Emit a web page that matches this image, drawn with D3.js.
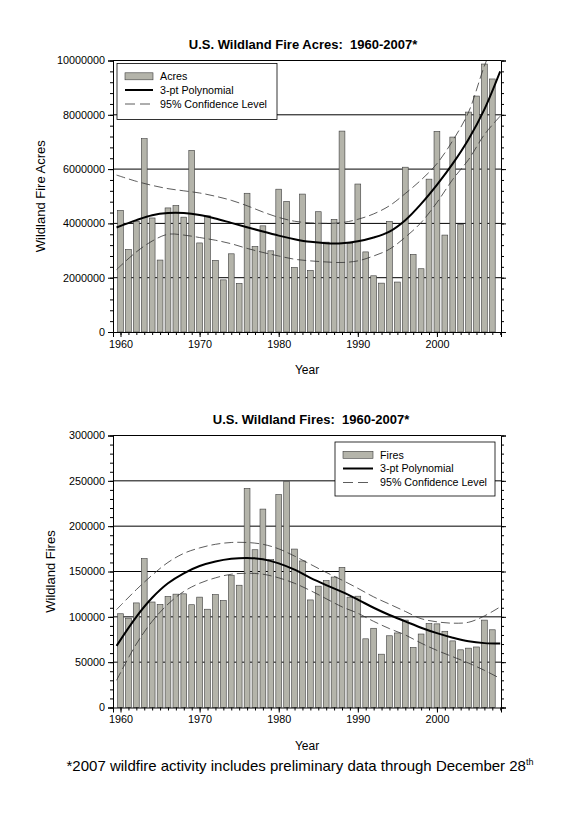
<!DOCTYPE html>
<html><head><meta charset="utf-8">
<script src="https://cdn.jsdelivr.net/npm/d3@7"></script>
<style>
body{margin:0;background:#fff;}
svg{display:block;font-family:"Liberation Sans",Arial,sans-serif;}
</style></head>
<body><svg id="chart" width="586" height="830"></svg>
<script>
// ---------- DATA ----------
const years = [1960,1961,1962,1963,1964,1965,1966,1967,1968,1969,1970,1971,1972,1973,1974,1975,1976,1977,1978,1979,
  1980,1981,1982,1983,1984,1985,1986,1987,1988,1989,1990,1991,1992,1993,1994,1995,1996,1997,1998,1999,
  2000,2001,2002,2003,2004,2005,2006,2007];
const acres = [4480000,3040000,4080000,7120000,4200000,2650000,4570000,4660000,4230000,6690000,
  3280000,4280000,2640000,1920000,2880000,1790000,5110000,3150000,3910000,2990000,
  5260000,4810000,2380000,5080000,2270000,4430000,3310000,4150000,7400000,3260000,
  5450000,2950000,2070000,1800000,4070000,1840000,6070000,2860000,2330000,5630000,
  7390000,3570000,7180000,3960000,8100000,8690000,9870000,9320000];
const fires = [103387,98517,115345,164183,116358,113684,122500,125025,125371,113351,
  121736,108398,124554,117957,145868,134872,241699,173998,218842,163196,
  234892,249370,174755,161649,118636,133840,139980,143877,154573,121714,
  122763,75754,87394,58810,79107,82234,96363,66196,81043,92487,
  92250,84079,73457,63629,65461,66753,96385,85705];

const fitYears = [1959.5,1962,1964,1966,1968,1970,1972,1974,1976,1978,1980,1982,1984,1986,1988,1990,1992,1994,1996,1998,2000,2002,2004,2006,2008];
const acresPoly  = [3850000,4120000,4300000,4380000,4380000,4310000,4180000,4020000,3860000,3700000,3550000,3420000,3320000,3270000,3270000,3340000,3480000,3700000,4120000,4720000,5420000,6200000,7100000,8200000,9600000];
const acresUpper = [5780000,5550000,5400000,5280000,5200000,5120000,5000000,4850000,4650000,4420000,4220000,4080000,4020000,4000000,4030000,4150000,4350000,4650000,5100000,5600000,6200000,7050000,8100000,9800000,11200000];
const acresLower = [2300000,2950000,3350000,3600000,3570000,3480000,3380000,3250000,3080000,2930000,2800000,2680000,2620000,2580000,2560000,2620000,2800000,3050000,3490000,4030000,4770000,5620000,6350000,7270000,7950000];

const firesPoly  = [68000,100000,121000,137000,148000,156000,161000,164000,165000,163500,159000,152000,143000,135000,127500,119000,110000,102000,95000,88000,82000,77000,73000,71000,70500];
const firesUpper = [108000,130000,146000,160000,170000,176000,180000,182000,182000,180000,175000,167000,158000,149000,140500,131500,122000,114000,106000,98000,94500,93000,94000,101000,111000];
const firesLower = [30000,70000,95000,114000,128000,137000,143000,147000,148000,147000,143000,137000,129000,120000,111000,104000,95000,87000,80000,71000,63000,56000,49000,41000,32000];

const acresTicks = [0,2000000,4000000,6000000,8000000,10000000];
const firesTicks = [0,50000,100000,150000,200000,250000,300000];
const yearTicks = [1960,1970,1980,1990,2000];

// ---------- STYLE ----------
const barFill = "#b4b4aa", barStroke = "#3c3c3c";
const svg = d3.select("#chart");

function drawChart(cfg){
  const x = d3.scaleLinear().domain([1959.05, 2008.1]).range([113, 501]);
  const y = d3.scaleLinear().domain([0, cfg.ticks[cfg.ticks.length-1]]).range([cfg.bottom, cfg.top]);
  const g = svg.append("g");
  const id = "clip" + cfg.name;
  g.append("clipPath").attr("id", id).append("rect")
    .attr("x", 113).attr("y", cfg.top).attr("width", 388).attr("height", cfg.bottom - cfg.top);

  // gridlines (behind bars)
  g.append("g").selectAll("line").data(cfg.ticks.slice(1))
    .join("line").attr("x1", 113).attr("x2", 501)
    .attr("y1", d => y(d)).attr("y2", d => y(d))
    .attr("stroke", "#000").attr("stroke-width", 1);

  // bars
  const bw = 5.8;
  g.append("g").selectAll("rect").data(years)
    .join("rect")
    .attr("x", (d) => x(d) - bw/2)
    .attr("width", bw)
    .attr("y", (d,i) => y(cfg.values[i]))
    .attr("height", (d,i) => y(0) - y(cfg.values[i]))
    .attr("fill", barFill).attr("stroke", barStroke).attr("stroke-width", 0.6);

  // fit lines
  const line = (arr) => d3.line().x((d,i) => x(fitYears[i])).y(d => y(d)).curve(d3.curveCatmullRom)(arr);
  const lg = g.append("g").attr("clip-path", `url(#${id})`);
  [cfg.upper, cfg.lower].forEach(arr => {
    lg.append("path").attr("d", line(arr)).attr("fill", "none")
      .attr("stroke", "#333").attr("stroke-width", 0.8).attr("stroke-dasharray", "9,4");
  });
  lg.append("path").attr("d", line(cfg.poly)).attr("fill", "none")
    .attr("stroke", "#000").attr("stroke-width", 2);

  // axes
  const yMinor = d3.range(0, cfg.ticks[cfg.ticks.length-1] + 1, cfg.minor);
  const left = g.append("g").attr("transform", "translate(113,0)")
    .call(d3.axisLeft(y).tickValues(cfg.ticks).tickFormat(d3.format("d")).tickSize(5).tickPadding(3));
  const right = g.append("g").attr("transform", "translate(501,0)")
    .call(d3.axisRight(y).tickValues(cfg.ticks).tickFormat("").tickSize(5));
  g.append("g").attr("transform", "translate(113,0)")
    .call(d3.axisLeft(y).tickValues(yMinor).tickFormat("").tickSize(3)).select(".domain").remove();
  g.append("g").attr("transform", "translate(501,0)")
    .call(d3.axisRight(y).tickValues(yMinor).tickFormat("").tickSize(3)).select(".domain").remove();
  const bottomAx = g.append("g").attr("transform", `translate(0,${cfg.bottom})`)
    .call(d3.axisBottom(x).tickValues(yearTicks).tickFormat(d3.format("d")).tickSize(5).tickPadding(3));
  g.append("g").attr("transform", `translate(0,${cfg.bottom})`)
    .call(d3.axisBottom(x).tickValues(years.concat([2008])).tickFormat("").tickSize(3)).select(".domain").remove();
  g.selectAll(".domain").attr("stroke", "#000").attr("stroke-width", 1);
  g.selectAll(".tick line").attr("stroke", "#000");
  g.selectAll(".tick text").attr("font-size", "10.8px").attr("fill", "#000")
    .attr("font-family", '"Liberation Sans",Arial,sans-serif');
  // top border
  g.append("line").attr("x1", 113).attr("x2", 501).attr("y1", cfg.top).attr("y2", cfg.top)
    .attr("stroke", "#000");

  // title & labels
  g.append("text").attr("x", cfg.titleX).attr("y", cfg.titleY).attr("text-anchor", "middle")
    .attr("font-size", "13px").attr("font-weight", "bold").style("white-space", "pre").text(cfg.title);
  g.append("text").attr("transform", `translate(${cfg.ylabX},${(cfg.top + cfg.bottom)/2}) rotate(-90)`)
    .attr("text-anchor", "middle").attr("font-size", "13px").text(cfg.ylabel);
  g.append("text").attr("x", 307).attr("y", cfg.bottom + 42).attr("text-anchor", "middle")
    .attr("font-size", "12px").text("Year");

  // legend
  const L = cfg.legend;
  const leg = g.append("g");
  leg.append("rect").attr("x", L.x).attr("y", L.y).attr("width", L.w).attr("height", L.h)
    .attr("fill", "#fff").attr("stroke", "#000").attr("stroke-width", 0.8);
  const sx = L.x + 8, sw = L.sw, tx = sx + sw + 7;
  const rows = [L.y + 12.8, L.y + 26.5, L.y + 40.5];
  leg.append("rect").attr("x", sx).attr("y", rows[0] - 3.5).attr("width", sw).attr("height", 7)
    .attr("fill", barFill).attr("stroke", barStroke).attr("stroke-width", 0.6);
  leg.append("line").attr("x1", sx).attr("x2", sx + sw).attr("y1", rows[1]).attr("y2", rows[1])
    .attr("stroke", "#000").attr("stroke-width", 2);
  leg.append("line").attr("x1", sx).attr("x2", sx + sw).attr("y1", rows[2]).attr("y2", rows[2])
    .attr("stroke", "#333").attr("stroke-width", 0.8).attr("stroke-dasharray", "10,5");
  [cfg.seriesName, "3-pt Polynomial", "95% Confidence Level"].forEach((t, i) => {
    leg.append("text").attr("x", tx).attr("y", rows[i] + 3.8).attr("font-size", "10.7px").text(t);
  });
}

drawChart({name:"acres", top:60.5, bottom:332, ticks:acresTicks, minor:400000,
  values:acres, poly:acresPoly, upper:acresUpper, lower:acresLower,
  title:"U.S. Wildland Fire Acres:  1960-2007*", titleX:303, titleY:49,
  ylabel:"Wildland Fire Acres", ylabX:45, seriesName:"Acres",
  legend:{x:117, y:63.5, w:160, h:56, sw:28}});

drawChart({name:"fires", top:435.5, bottom:707.5, ticks:firesTicks, minor:10000,
  values:fires, poly:firesPoly, upper:firesUpper, lower:firesLower,
  title:"U.S. Wildland Fires:  1960-2007*", titleX:311, titleY:424,
  ylabel:"Wildland Fires", ylabX:55, seriesName:"Fires",
  legend:{x:335, y:442, w:160, h:54, sw:30}});

// footnote
const fn = svg.append("text").attr("x", 300).attr("y", 771).attr("text-anchor", "middle")
  .attr("font-size", "15px");
fn.append("tspan").text("*2007 wildfire activity includes preliminary data through December 28");
fn.append("tspan").attr("font-size", "9px").attr("dy", "-6").text("th");
</script></body></html>
